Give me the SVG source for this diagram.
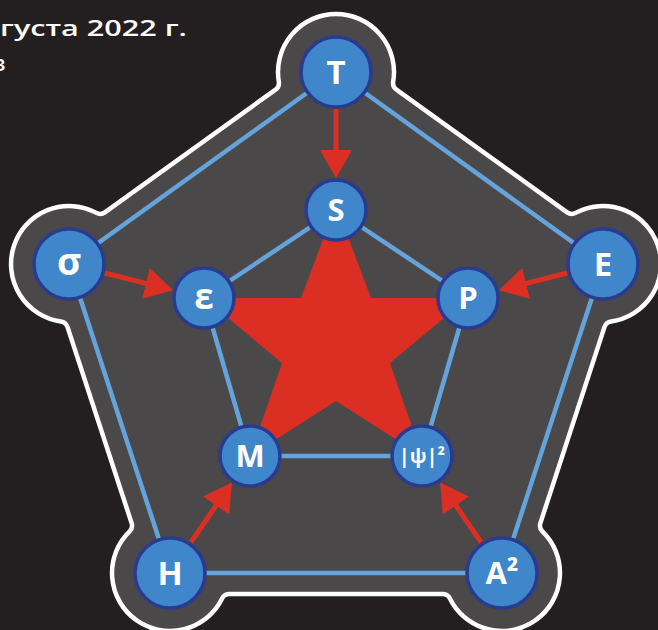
<svg xmlns="http://www.w3.org/2000/svg" width="658" height="630" viewBox="0 0 658 630">
<defs>
<style>
.bg{fill:#231f20}
.plate{fill:#4a4849;stroke:#ffffff;stroke-width:4.5}
.link{stroke:#64a3dc;stroke-width:4.5;fill:none}
.arrow{stroke:#dc2f24;stroke-width:5;fill:none;marker-end:url(#head)}
.star{fill:#dc2f24}
.node circle{fill:#3f86ca;stroke:#2a3b8f;stroke-width:3.5}
.node text{fill:#ffffff;font-family:"Open Sans","Noto Sans","DejaVu Sans",sans-serif;font-weight:700;text-anchor:middle}
.cap{fill:#ffffff;font-family:"Open Sans","Noto Sans",sans-serif;font-weight:600;font-size:22px}
</style>
<marker id="head" viewBox="0 0 28 32" markerWidth="28" markerHeight="32" markerUnits="userSpaceOnUse" refX="16" refY="16" orient="auto">
<path d="M0,0 L28,16 L0,32 Z" fill="#dc2f24"/>
</marker>
</defs>
<rect class="bg" x="0" y="0" width="658" height="630"/>
<text class="cap" x="0" y="36" textLength="187" lengthAdjust="spacingAndGlyphs">густа 2022 г.</text>
<text class="cap" x="-6" y="71">з</text>
<path class="plate" d="M393.18,81.74 A8,8 0 0 0 396.40,89.57 L567.12,212.33 A8,8 0 0 0 575.57,212.89 A58,58 0 1 1 611.03,321.45 A8,8 0 0 0 604.54,326.88 L540.38,523.16 A8,8 0 0 0 542.41,531.39 A58,58 0 1 1 449.89,598.49 A8,8 0 0 0 442.7,594 L229.3,594 A8,8 0 0 0 222.11,598.49 A58,58 0 1 1 129.59,531.39 A8,8 0 0 0 131.62,523.16 L67.46,326.88 A8,8 0 0 0 60.97,321.45 A58,58 0 1 1 96.43,212.89 A8,8 0 0 0 104.88,212.33 L275.60,89.57 A8,8 0 0 0 278.82,81.74 A58,58 0 1 1 393.18,81.74 Z"/>
<path class="star" d="M336,205 L371,298 L468,298 L390,363 L422,456 L336,401 L250,456 L282,363 L204,298 L301,298 Z"/>
<g id="connectors">
<line class="link" x1="336" y1="72" x2="603" y2="264"/>
<line class="link" x1="603" y1="264" x2="502" y2="573"/>
<line class="link" x1="502" y1="573" x2="170" y2="573"/>
<line class="link" x1="170" y1="573" x2="69" y2="264"/>
<line class="link" x1="69" y1="264" x2="336" y2="72"/>
<line class="link" x1="336" y1="210" x2="468" y2="298"/>
<line class="link" x1="468" y1="298" x2="422" y2="456"/>
<line class="link" x1="422" y1="456" x2="250" y2="456"/>
<line class="link" x1="250" y1="456" x2="204" y2="298"/>
<line class="link" x1="204" y1="298" x2="336" y2="210"/>
<line class="arrow" x1="336" y1="109" x2="336" y2="166"/>
<line class="arrow" x1="104.9" y1="273" x2="161.4" y2="287.3"/>
<line class="arrow" x1="567.1" y1="273" x2="510.6" y2="287.3"/>
<line class="arrow" x1="190.9" y1="542.4" x2="225.1" y2="492.3"/>
<line class="arrow" x1="481.1" y1="542.4" x2="446.9" y2="492.3"/>
</g>
<g id="node-T" class="node"><circle cx="336" cy="72" r="35"/><text x="336" y="84" font-size="33">T</text></g>
<g id="node-E" class="node"><circle cx="603" cy="264" r="35"/><text x="603" y="276" font-size="33">E</text></g>
<g id="node-A2" class="node"><circle cx="502" cy="573" r="35"/><text x="502" y="584" font-size="31">A²</text></g>
<g id="node-H" class="node"><circle cx="170" cy="573" r="35"/><text x="170" y="585" font-size="33">H</text></g>
<g id="node-sigma" class="node"><circle cx="69" cy="264" r="35"/><text x="69" y="275" font-size="37">σ</text></g>
<g id="node-S" class="node"><circle cx="336" cy="210" r="30"/><text x="336" y="221" font-size="31">S</text></g>
<g id="node-P" class="node"><circle cx="468" cy="298" r="30"/><text x="468" y="309" font-size="31">P</text></g>
<g id="node-psi" class="node"><circle cx="422" cy="456" r="30"/><text x="422" y="463" font-size="20">|ψ|²</text></g>
<g id="node-M" class="node"><circle cx="250" cy="456" r="30"/><text x="250" y="467" font-size="31">M</text></g>
<g id="node-eps" class="node"><circle cx="204" cy="298" r="30"/><text x="204" y="309" font-size="35">ε</text></g>
</svg>
